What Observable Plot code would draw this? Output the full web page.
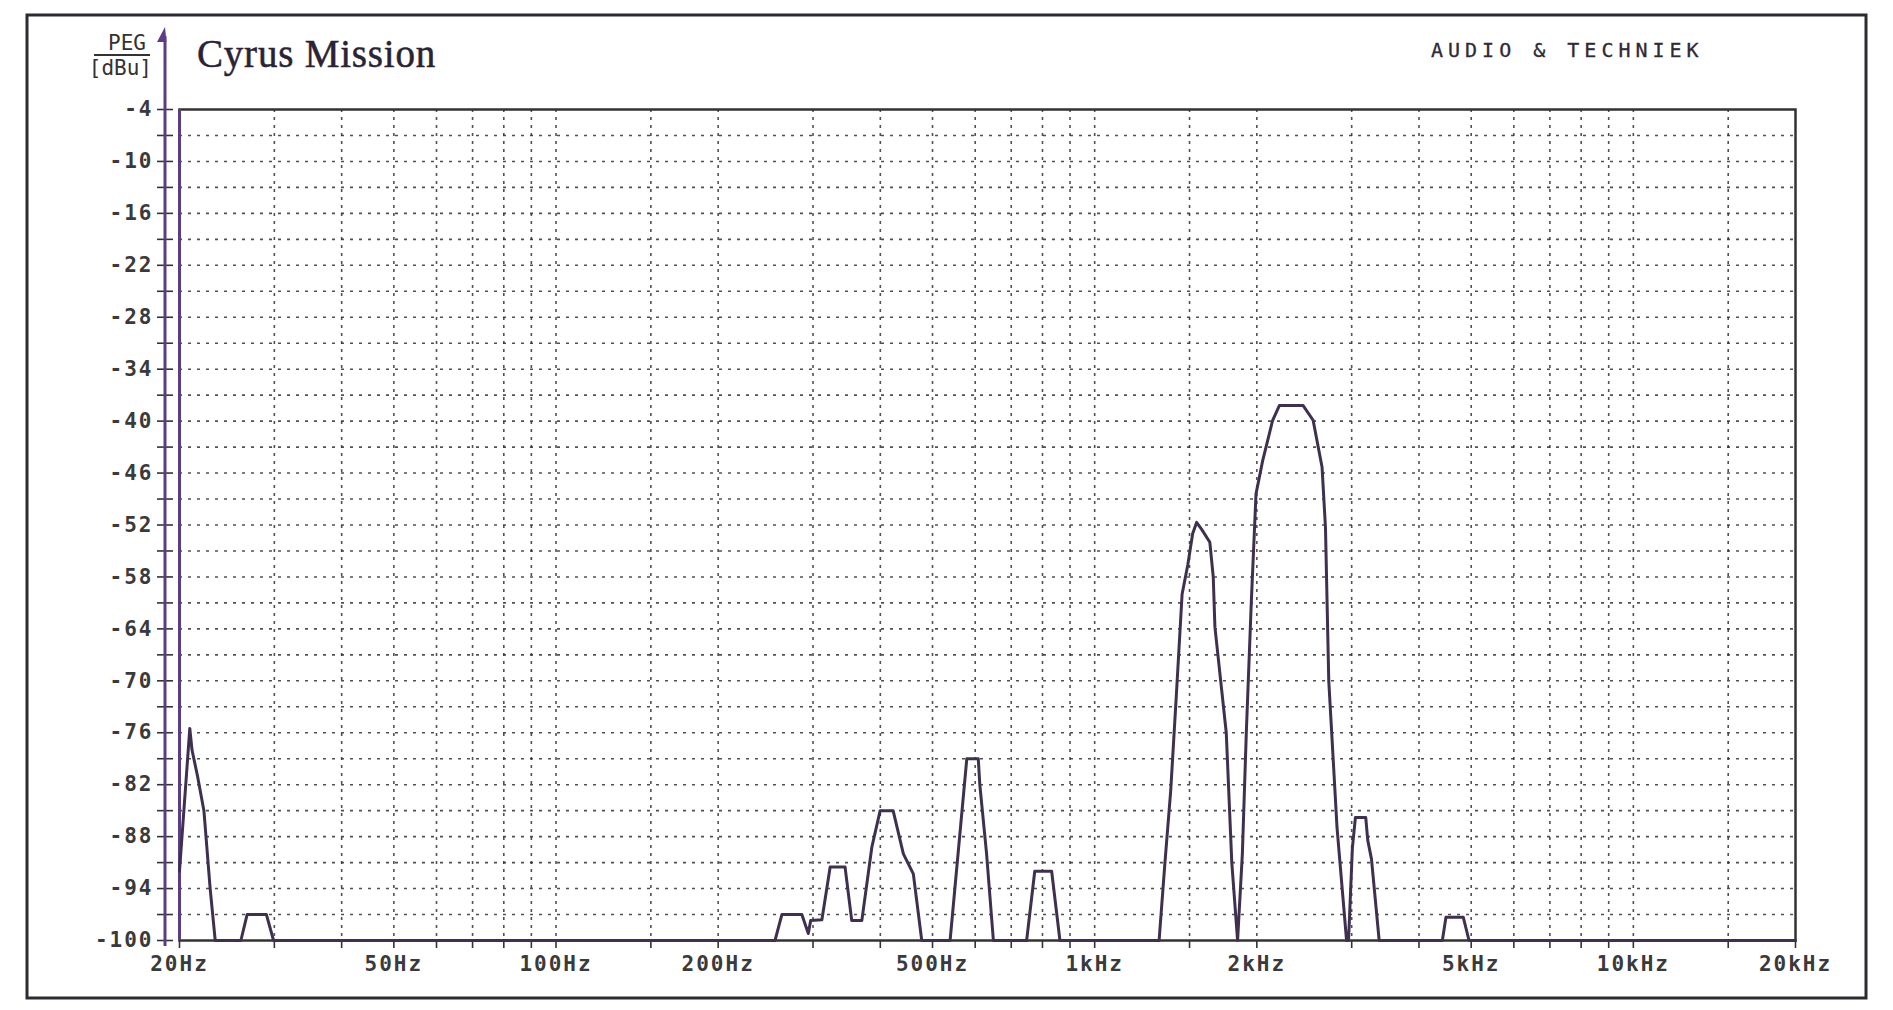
<!DOCTYPE html>
<html><head><meta charset="utf-8">
<script src="https://cdn.jsdelivr.net/npm/d3@7"></script>
<script src="https://cdn.jsdelivr.net/npm/@observablehq/plot@0.6"></script>
<style>
html,body{margin:0;padding:0;background:#fff;}
#chart{position:relative;width:1893px;height:1010px;overflow:hidden;}
</style></head><body><div id="chart"></div>
<script>
// ---- data ----
const freqHz = [20, 20.9, 21.1, 21.6, 22.2, 22.8, 23.3, 26.0, 26.7, 29.0, 29.9,
  255, 262.6, 286, 294, 297, 311.6, 322.8, 344, 354, 369.6, 385.8, 399.7, 422.5, 441.4, 460.6, 477.5,
  539, 578.9, 608, 612, 630, 648.6, 747.6, 774, 832, 862,
  1317, 1350, 1384, 1418, 1453, 1489, 1520, 1546, 1580, 1636, 1660, 1672, 1755, 1797, 1842,
  1880, 1912, 1953, 1993, 2050, 2140, 2202, 2438, 2544, 2600, 2643, 2682, 2720, 2818, 2935,
  2960, 3009, 3048, 3186, 3213, 3265, 3374, 4420, 4489, 4833, 4954, 20000];
const levelDb = [-92, -75.5, -78, -81, -85, -94, -100, -100, -97, -97, -100,
  -100, -97, -97, -99.2, -97.7, -97.6, -91.5, -91.5, -97.7, -97.7, -89.2, -85, -85, -90, -92.3, -100,
  -100, -79, -79, -82, -90, -100, -100, -92, -92, -100,
  -100, -91.1, -82.7, -71.6, -60, -56.6, -53, -51.7, -52.5, -54, -58, -63.8, -76, -91, -100,
  -90, -76, -61, -48.4, -44.6, -39.9, -38.2, -38.2, -39.9, -43, -45.3, -52.3, -70, -87, -100,
  -100, -89.3, -85.8, -85.8, -88.4, -90.6, -100, -100, -97.3, -97.3, -100, -100];

const yTickValues = [-4, -10, -16, -22, -28, -34, -40, -46, -52, -58, -64, -70, -76, -82, -88, -94, -100];
const yGridValues = [-7, -10, -13, -16, -19, -22, -25, -28, -31, -34, -37, -40, -43, -46, -49, -52, -55, -58,
  -61, -64, -67, -70, -73, -76, -79, -82, -85, -88, -91, -94, -97];
const yAxisTicks = [-4, -7, -10, -13, -16, -19, -22, -25, -28, -31, -34, -37, -40, -43, -46, -49, -52, -55, -58,
  -61, -64, -67, -70, -73, -76, -79, -82, -85, -88, -91, -94, -97, -100];
const xGridValues = [30, 40, 50, 60, 70, 80, 90, 100, 150, 200, 300, 400, 500, 600, 700, 800, 900,
  1000, 1500, 2000, 3000, 4000, 5000, 6000, 7000, 8000, 9000, 10000, 15000];
const xTickValues = [20, 50, 100, 200, 500, 1000, 2000, 5000, 10000, 20000];
const xTickLabels = ["20Hz", "50Hz", "100Hz", "200Hz", "500Hz", "1kHz", "2kHz", "5kHz", "10kHz", "20kHz"];

const titleText = "Cyrus Mission";
const sourceText = "AUDIO & TECHNIEK";
const unitTop = "PEG";
const unitBottom = "[dBu]";

// ---- chart ----
const data = freqHz.map((f, i) => ({f, db: levelDb[i]}));
const xLabel = new Map(xTickValues.map((v, i) => [v, xTickLabels[i]]));
const ink = "#333";
const purple = "#5a3d85";
const trace = "#3f3050";

const svg = Plot.plot({
  width: 1893, height: 1010,
  marginLeft: 179, marginRight: 98, marginTop: 109, marginBottom: 70,
  style: {background: "transparent", fontFamily: "DejaVu Sans Mono", fontSize: "20px", color: ink},
  x: {type: "log", domain: [20, 20000], label: null},
  y: {domain: [-100, -4], label: null},
  marks: [
    Plot.gridY(yGridValues, {stroke: "#333", strokeOpacity: 0.85, strokeWidth: 1.6, strokeDasharray: "3,6"}),
    Plot.gridX(xGridValues, {stroke: "#333", strokeOpacity: 0.85, strokeWidth: 1.6, strokeDasharray: "3,5"}),
    Plot.frame({stroke: ink, strokeWidth: 2.5}),
    Plot.ruleX([20], {stroke: purple, strokeWidth: 3}),
    Plot.axisY(yAxisTicks, {tickSize: 16, dx: -6, tickFormat: () => "", stroke: ink, strokeWidth: 1.6, label: null}),
    Plot.axisY(yTickValues, {tickSize: 0, tickPadding: 26, tickFormat: d => String(d), fill: "#3a3a3a",
      fontFamily: "DejaVu Sans Mono", fontSize: 21, fontWeight: "bold", label: null}),
    Plot.axisX(xGridValues.concat([20, 20000]), {tickSize: 8, tickFormat: () => "", stroke: ink, strokeWidth: 1.6, label: null}),
    Plot.axisX(xTickValues, {tickSize: 0, tickPadding: 16, tickFormat: d => xLabel.get(d), fill: "#3a3a3a",
      fontFamily: "DejaVu Sans Mono", fontSize: 21, fontWeight: "bold", label: null}),
    Plot.line(data, {x: "f", y: "db", stroke: trace, strokeWidth: 3, strokeLinejoin: "round"})
  ]
});

document.getElementById("chart").appendChild(svg);

const s = d3.select(svg);
s.selectAll("g[aria-label='y-axis tick label'] text, g[aria-label='x-axis tick label'] text")
  .style("letter-spacing", "2px");

const xs = svg.scale("x"), ys = svg.scale("y");
const axisX = xs.apply(20) - 14;

// outer frame
s.insert("rect", ":first-child")
  .attr("x", 27).attr("y", 15).attr("width", 1839).attr("height", 983)
  .attr("fill", "#fff").attr("stroke", "#2e2a33").attr("stroke-width", 3);

// y axis line with arrow
s.append("line").attr("x1", axisX).attr("x2", axisX).attr("y1", 36).attr("y2", ys.apply(-100) + 6)
  .attr("stroke", purple).attr("stroke-width", 3);
s.append("path")
  .attr("d", `M${axisX},27 L${axisX - 8},42 L${axisX + 1.5},42 Z`)
  .attr("fill", purple);

// unit label
s.append("text").attr("x", 146).attr("y", 50).attr("text-anchor", "end")
  .attr("font-family", "DejaVu Sans Mono").attr("font-size", 21).attr("fill", ink).text(unitTop);
s.append("line").attr("x1", 94).attr("x2", 150).attr("y1", 55).attr("y2", 55)
  .attr("stroke", ink).attr("stroke-width", 2);
s.append("text").attr("x", 152).attr("y", 75).attr("text-anchor", "end")
  .attr("font-family", "DejaVu Sans Mono").attr("font-size", 21).attr("fill", ink).text(unitBottom);

// title
s.append("text").attr("x", 197).attr("y", 67).attr("text-anchor", "start")
  .attr("font-family", "Liberation Serif").attr("font-size", 39).attr("fill", "#2a2333")
  .attr("stroke", "#2a2333").attr("stroke-width", 0.5)
  .style("letter-spacing", "0.8px").text(titleText);

// source
s.append("text").attr("x", 1431).attr("y", 57).attr("text-anchor", "start")
  .attr("font-family", "DejaVu Sans Mono").attr("font-size", 20).attr("fill", "#2f2a35")
  .attr("stroke", "#2f2a35").attr("stroke-width", 0.3)
  .style("letter-spacing", "5px").text(sourceText);
</script></body></html>
